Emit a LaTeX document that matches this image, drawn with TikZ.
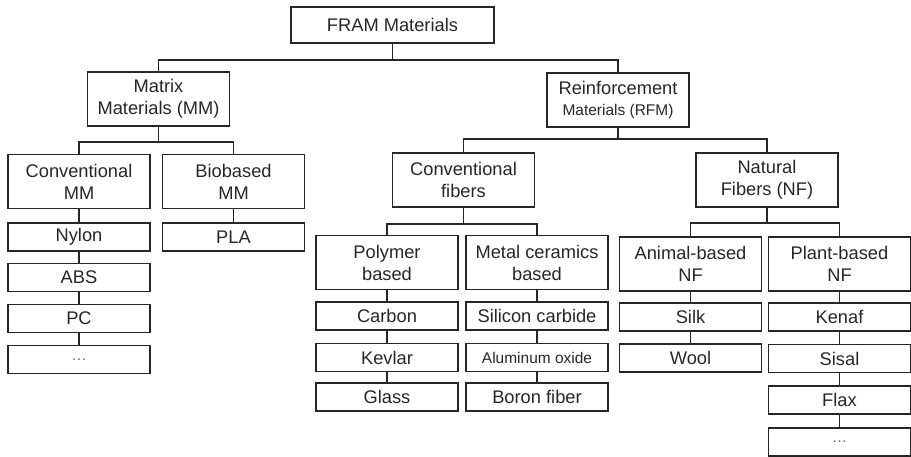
\documentclass[tikz,border=0pt]{standalone}
\usepackage{fontspec}
\setmainfont{Liberation Sans}
\usepackage{tikz}
\usetikzlibrary{positioning, calc}
\tikzstyle{box}=[draw=black!85, line width=1.1pt, text=black!85, inner sep=0pt,
  minimum width=3.55cm, minimum height=0.7cm, align=center,
  font=\fontsize{13}{15.6}\selectfont]
\tikzstyle{tallbox}=[box, minimum height=1.35cm]
\tikzstyle{link}=[draw=black!85, line width=1.1pt]
\newcommand{\smalltxt}{\fontsize{11}{13}\selectfont}

\begin{document}
\begin{tikzpicture}[x=0.025cm, y=-0.025cm]
  \useasboundingbox (0,0) rectangle (911,456);

  % Top levels
  \node[box, minimum width=5.075cm, minimum height=0.9cm] (fram) at (392.5,25) {FRAM Materials};
  \node[tallbox] (mm)  at (158.5,99) {Matrix\\Materials (MM)};
  \node[tallbox] (rfm) at (618,100)  {Reinforcement\\{\smalltxt Materials (RFM)}};

  % Second level
  \node[tallbox] (convmm)  at (79,181.5)  {Conventional\\MM};
  \node[tallbox] (biomm)   at (233.5,181.5) {Biobased\\MM};
  \node[tallbox] (convfib) at (463.5,180) {Conventional\\fibers};
  \node[tallbox] (natfib)  at (767,180)   {Natural\\Fibers (NF)};

  % Fiber groups
  \node[tallbox] (polymer) at (387,262.5)  {Polymer\\based};
  \node[tallbox] (metal)   at (537,262.5)  {Metal ceramics\\based};
  \node[tallbox] (animal)  at (690.5,264)  {Animal-based\\NF};
  \node[tallbox] (plant)   at (839.5,264)  {Plant-based\\NF};

  % Leaves
  \node[box] (nylon) at (79,237)   {Nylon};
  \node[box] (abs)   at (79,277.5) {ABS};
  \node[box] (pc)    at (79,318.5) {PC};
  \node[box] (etcmm) at (79,359.5) {\smalltxt\textcolor{black!60}{\dots}};
  \node[box] (pla)   at (233.5,237) {PLA};

  \node[box] (carbon) at (387,316)   {Carbon};
  \node[box] (kevlar) at (387,357.5) {Kevlar};
  \node[box] (glass)  at (387,397)   {Glass};
  \node[box] (sic)    at (537,316)   {Silicon carbide};
  \node[box] (alox)   at (537,357.5) {\smalltxt Aluminum oxide};
  \node[box] (boron)  at (537,397)   {Boron fiber};

  \node[box] (silk)   at (690.5,317) {Silk};
  \node[box] (wool)   at (690.5,358) {Wool};
  \node[box] (kenaf)  at (839.5,317) {Kenaf};
  \node[box] (sisal)  at (839.5,358.5) {Sisal};
  \node[box] (flax)   at (839.5,400) {Flax};
  \node[box] (etcnf)  at (839.5,442) {\smalltxt\textcolor{black!60}{\dots}};

  % Tree links
  \draw[link] (fram.south) -- ++(0,16) -| (mm.north);
  \draw[link] (fram.south) -- ++(0,16) -| (rfm.north);
  \draw[link] (mm.south) -- ++(0,15) -| (convmm.north);
  \draw[link] (mm.south) -- ++(0,15) -| (biomm.north);
  \draw[link] (rfm.south) -- ++(0,11) -| (convfib.north);
  \draw[link] (rfm.south) -- ++(0,11) -| (natfib.north);
  \draw[link] (convfib.south) -- ++(0,16) -| (polymer.north);
  \draw[link] (convfib.south) -- ++(0,16) -| (metal.north);
  \draw[link] (natfib.south) -- ++(0,15) -| (animal.north);
  \draw[link] (natfib.south) -- ++(0,15) -| (plant.north);

  % Chains
  \draw[link] (convmm) -- (nylon) -- (abs) -- (pc) -- (etcmm);
  \draw[link] (biomm) -- (pla);
  \draw[link] (polymer) -- (carbon) -- (kevlar) -- (glass);
  \draw[link] (metal) -- (sic) -- (alox) -- (boron);
  \draw[link] (animal) -- (silk) -- (wool);
  \draw[link] (plant) -- (kenaf) -- (sisal) -- (flax) -- (etcnf);
\end{tikzpicture}
\end{document}
